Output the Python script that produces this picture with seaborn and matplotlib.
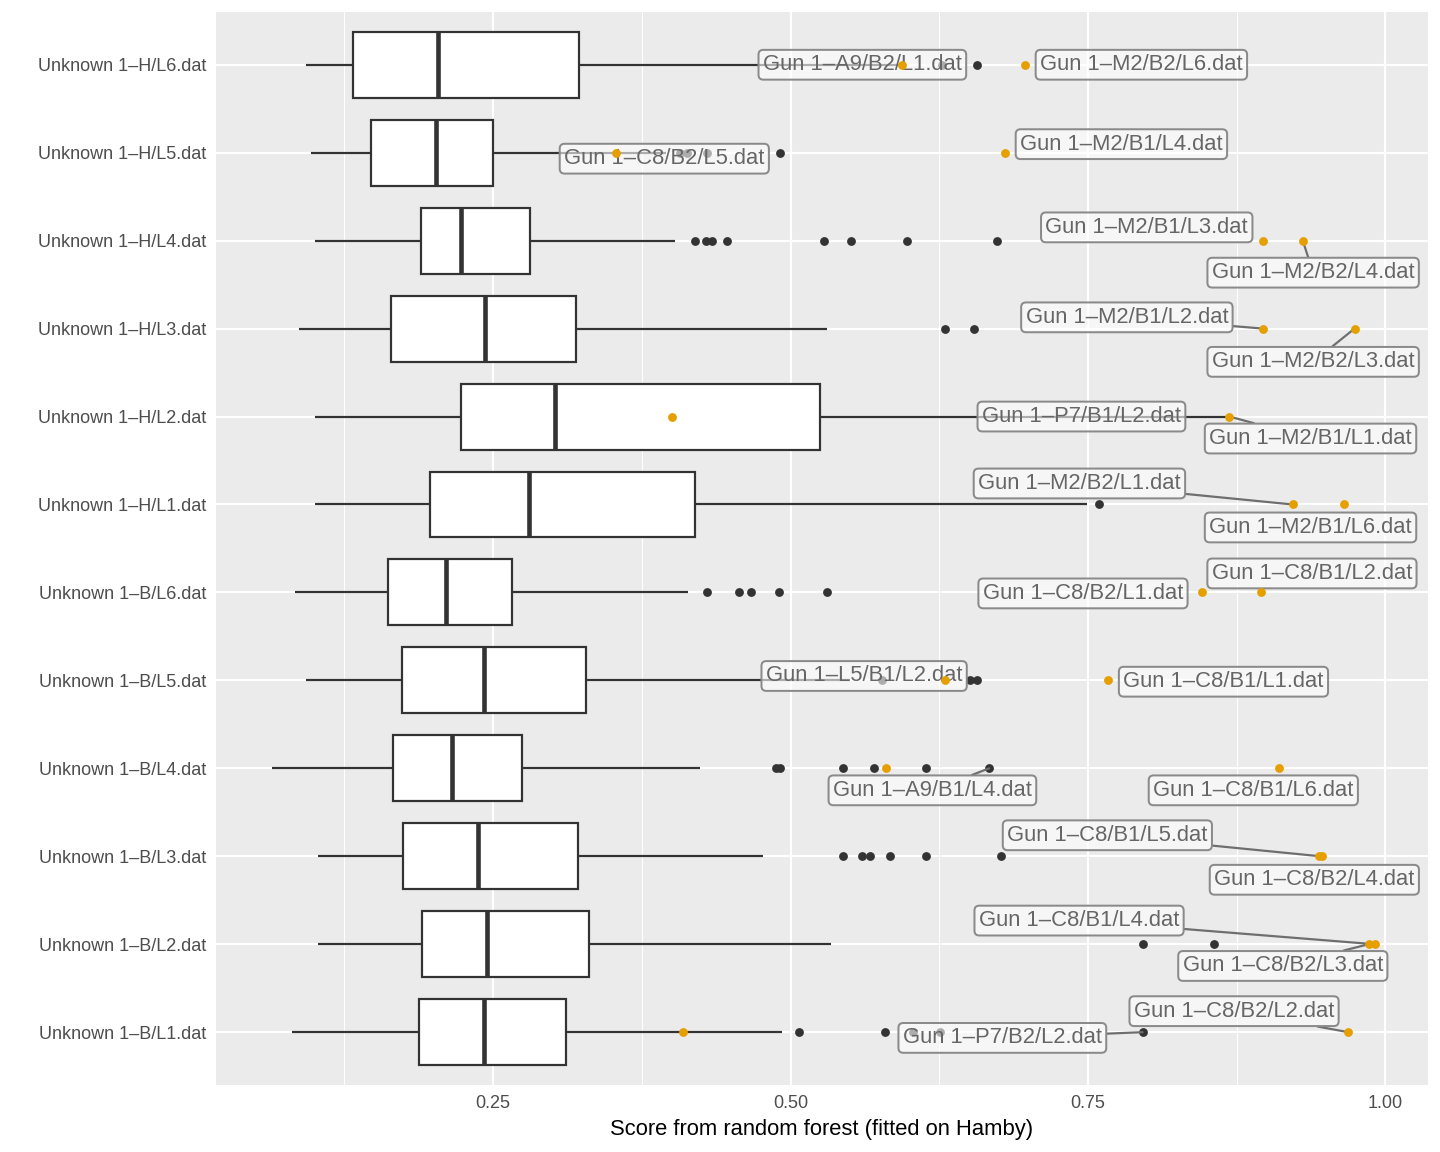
import numpy as np
import pandas as pd
import matplotlib
matplotlib.use("Agg")
import matplotlib.pyplot as plt
from matplotlib.ticker import FixedLocator
import seaborn as sns

# ---------------- data ----------------
rows = ["Unknown 1–H/L6.dat", "Unknown 1–H/L5.dat", "Unknown 1–H/L4.dat",
        "Unknown 1–H/L3.dat", "Unknown 1–H/L2.dat", "Unknown 1–H/L1.dat",
        "Unknown 1–B/L6.dat", "Unknown 1–B/L5.dat", "Unknown 1–B/L4.dat",
        "Unknown 1–B/L3.dat", "Unknown 1–B/L2.dat", "Unknown 1–B/L1.dat"]

whisk_lo = [0.093, 0.097, 0.100, 0.087, 0.100, 0.100, 0.083, 0.093, 0.064, 0.103, 0.103, 0.081]
q1       = [0.132, 0.147, 0.189, 0.164, 0.223, 0.197, 0.162, 0.173, 0.166, 0.174, 0.190, 0.188]
median   = [0.204, 0.202, 0.223, 0.243, 0.302, 0.280, 0.210, 0.242, 0.215, 0.237, 0.245, 0.242]
q3       = [0.322, 0.250, 0.281, 0.320, 0.525, 0.420, 0.266, 0.328, 0.274, 0.321, 0.331, 0.311]
whisk_hi = [0.594, 0.395, 0.403, 0.531, 0.866, 0.749, 0.414, 0.550, 0.424, 0.477, 0.534, 0.493]

outlier_scores = [
    [0.627, 0.657],
    [0.407, 0.413, 0.430, 0.491],
    [0.420, 0.429, 0.434, 0.447, 0.528, 0.551, 0.598, 0.674],
    [0.630, 0.654],
    [],
    [0.759],
    [0.430, 0.457, 0.467, 0.490, 0.5305],
    [0.577, 0.651, 0.657],
    [0.488, 0.491, 0.544, 0.570, 0.6135, 0.667],
    [0.544, 0.560, 0.567, 0.584, 0.6135, 0.677],
    [0.796, 0.856],
    [0.507, 0.5795, 0.603, 0.626, 0.796],
]

highlight_scores = [
    [0.594, 0.6975],
    [0.3536, 0.680],
    [0.8974, 0.9307],
    [0.8974, 0.9742],
    [0.400, 0.869],
    [0.9223, 0.9654],
    [0.8456, 0.8958],
    [0.630, 0.767],
    [0.580, 0.9104],
    [0.944, 0.947],
    [0.986, 0.991],
    [0.410, 0.969],
]

label_names = ["Gun 1–A9/B2/L1.dat", "Gun 1–M2/B2/L6.dat", "Gun 1–C8/B2/L5.dat",
               "Gun 1–M2/B1/L4.dat", "Gun 1–M2/B1/L3.dat", "Gun 1–M2/B2/L4.dat",
               "Gun 1–M2/B1/L2.dat", "Gun 1–M2/B2/L3.dat", "Gun 1–P7/B1/L2.dat",
               "Gun 1–M2/B1/L1.dat", "Gun 1–M2/B2/L1.dat", "Gun 1–M2/B1/L6.dat",
               "Gun 1–C8/B2/L1.dat", "Gun 1–C8/B1/L2.dat", "Gun 1–L5/B1/L2.dat",
               "Gun 1–C8/B1/L1.dat", "Gun 1–A9/B1/L4.dat", "Gun 1–C8/B1/L6.dat",
               "Gun 1–C8/B1/L5.dat", "Gun 1–C8/B2/L4.dat", "Gun 1–C8/B1/L4.dat",
               "Gun 1–C8/B2/L3.dat", "Gun 1–P7/B2/L2.dat", "Gun 1–C8/B2/L2.dat"]
label_rows = [0, 0, 1, 1, 2, 2, 3, 3, 4, 4, 5, 5, 6, 6, 7, 7, 8, 8, 9, 9, 10, 10, 11, 11]
label_scores = [0.594, 0.6975, 0.3536, 0.680, 0.8974, 0.9307, 0.8974, 0.9742,
                0.400, 0.869, 0.9223, 0.9654, 0.8456, 0.8958, 0.630, 0.767,
                0.667, 0.9104, 0.9456, 0.944, 0.991, 0.986, 0.796, 0.969]

# ---------------- label layout (repelled positions) ----------------
label_x = [0.5604, 0.7950, 0.3939, 0.7782, 0.7995, 0.9394, 0.7828, 0.9394,
           0.7446, 0.9372, 0.7429, 0.9372, 0.7459, 0.9384, 0.5619, 0.8640,
           0.6193, 0.8891, 0.7664, 0.9404, 0.7426, 0.9139, 0.6781, 0.8729]
label_dy = [0.0, 0.0, 0.068, -0.097, -0.151, 0.364, -0.128, 0.378,
            0.0, 0.25, -0.239, 0.261, 0.011, -0.216, -0.05, 0.015,
            0.25, 0.25, -0.239, 0.267, -0.269, 0.247, 0.065, -0.239]
label_seg = [False, False, False, False, False, True, True, True,
             False, True, True, False, False, False, False, False,
             True, False, True, False, True, True, True, True]

# ---------------- build tables ----------------
box_df = pd.DataFrame(
    [(rows[i], v) for i in range(len(rows))
     for v in (whisk_lo[i], q1[i], median[i], q3[i], whisk_hi[i])],
    columns=["file", "score"])
out_df = pd.DataFrame(
    [(rows[i], v) for i in range(len(rows)) for v in outlier_scores[i]],
    columns=["file", "score"])
hl_df = pd.DataFrame(
    [(rows[i], v) for i in range(len(rows)) for v in highlight_scores[i]],
    columns=["file", "score"])

# ---------------- style ----------------
sns.set_theme(style="darkgrid")
plt.rcParams["font.family"] = ["Liberation Sans", "DejaVu Sans"]

fig, ax = plt.subplots(figsize=(10, 8), dpi=144)
fig.subplots_adjust(left=0.15, right=0.9917, top=0.9896, bottom=0.0582)
ax.set_facecolor("#EBEBEB")

sns.boxplot(data=box_df, x="score", y="file", order=rows, whis=(0, 100),
            showfliers=False, showcaps=False, width=0.75, color="white",
            saturation=1, linecolor="#333333", linewidth=1.1,
            medianprops=dict(linewidth=2.3, color="#333333"), ax=ax, zorder=2)

sns.stripplot(data=out_df, x="score", y="file", order=rows, jitter=False,
              color="#333333", size=4.4, linewidth=0, ax=ax, zorder=3)
sns.stripplot(data=hl_df, x="score", y="file", order=rows, jitter=False,
              color="#E69F00", size=4.4, linewidth=0, ax=ax, zorder=7)

for k, name in enumerate(label_names):
    yr = label_rows[k]
    arrow = (dict(arrowstyle="-", color="#6E6E6E", lw=1.1, shrinkA=0, shrinkB=0)
             if label_seg[k] else None)
    ax.annotate(name, xy=(label_scores[k], yr),
                xytext=(label_x[k], yr + label_dy[k]), textcoords="data",
                ha="center", va="center", fontsize=11, color="#666666",
                bbox=dict(boxstyle="round,pad=0.2,rounding_size=0.22",
                          fc=(1, 1, 1, 0.6), ec="#8A8A8A", lw=1.0),
                arrowprops=arrow, zorder=6)

# axes
ax.set_xlim(0.017, 1.036)
ax.set_ylim(len(rows) - 1 + 0.6, -0.6)
ax.xaxis.set_major_locator(FixedLocator([0.25, 0.5, 0.75, 1.0]))
ax.set_xticklabels(["0.25", "0.50", "0.75", "1.00"])
ax.xaxis.set_minor_locator(FixedLocator([0.125, 0.375, 0.625, 0.875]))
ax.set_yticks(range(len(rows)))
ax.set_yticklabels(rows)

ax.grid(False)
ax.set_axisbelow(True)
ax.grid(which="major", axis="both", color="white", linewidth=1.07)
ax.grid(which="minor", axis="x", color="white", linewidth=0.53)
for s in ax.spines.values():
    s.set_visible(False)

ax.tick_params(which="major", length=2.75, width=1.07, color="#333333",
               labelcolor="#4D4D4D", labelsize=9, pad=2.2)
ax.tick_params(which="minor", length=0)
ax.set_xlabel("Score from random forest (fitted on Hamby)", fontsize=11,
              color="black", labelpad=3.5)
ax.set_ylabel("")

fig.savefig("out.png", dpi=144, facecolor="white")
